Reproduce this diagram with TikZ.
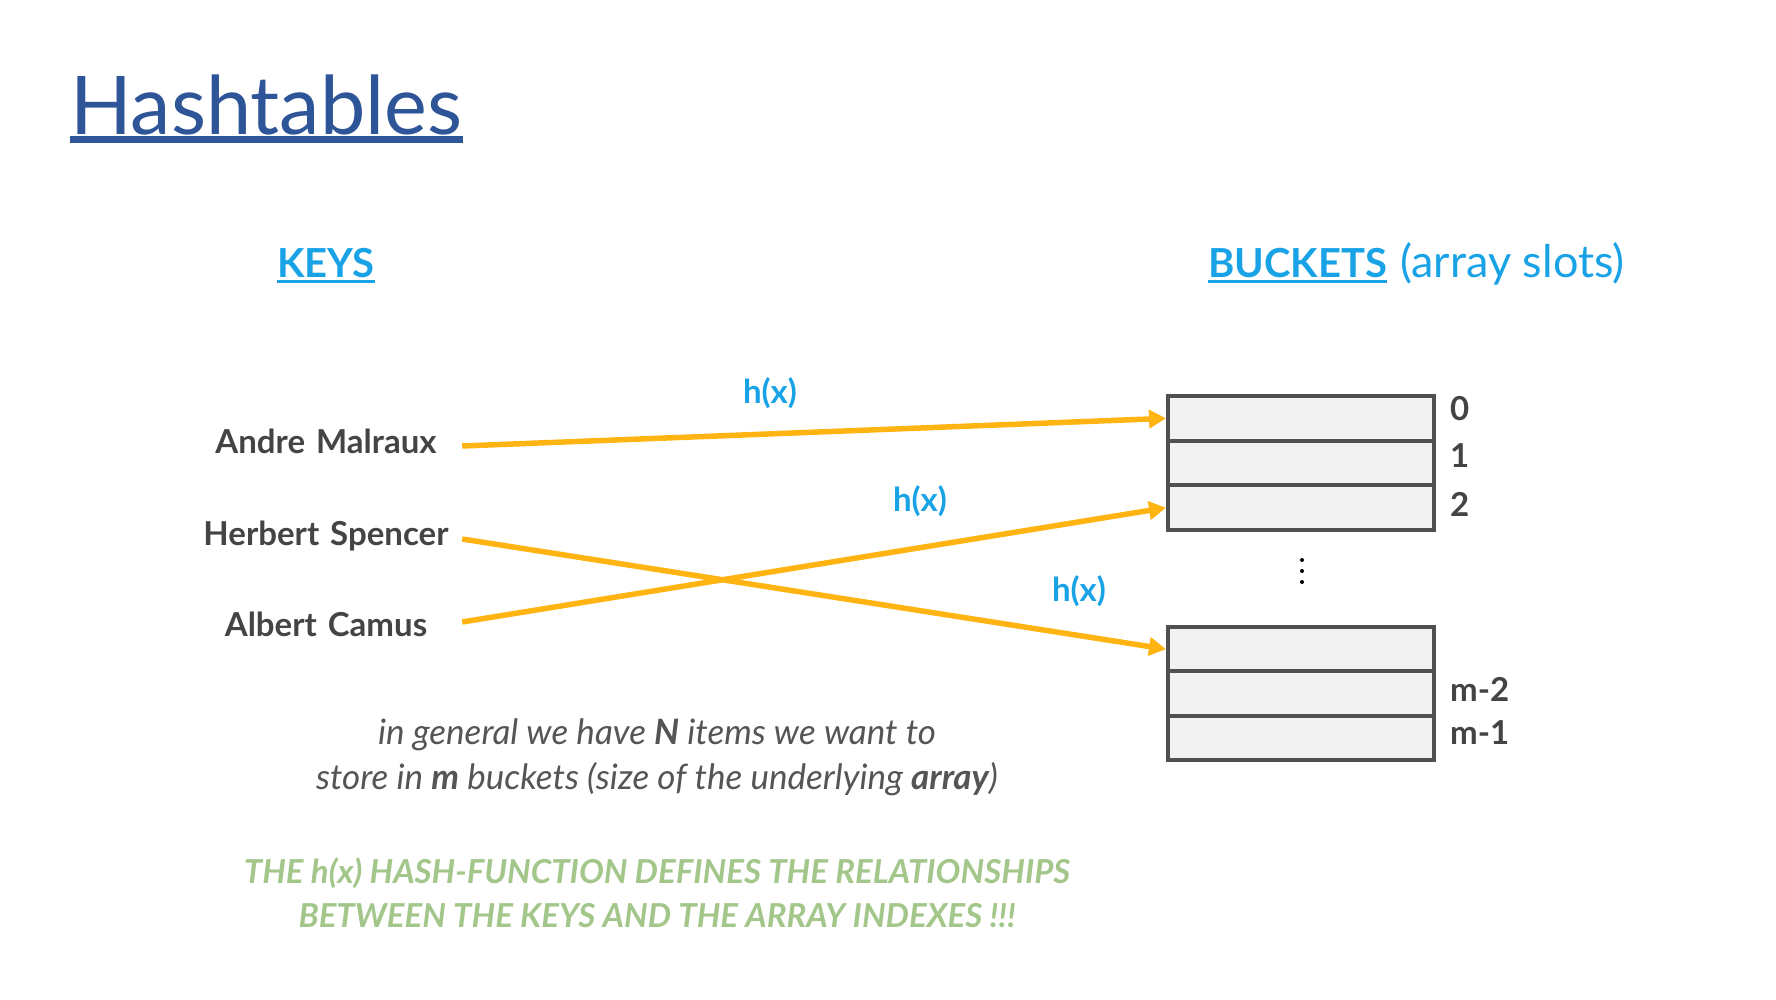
\documentclass[tikz,border=0pt]{standalone}
\usepackage{fontspec}
\setmainfont{Lato}
\usetikzlibrary{arrows.meta}

\definecolor{titleblue}{HTML}{2E5597}
\definecolor{headblue}{HTML}{19A3E6}
\definecolor{keygray}{HTML}{444444}
\definecolor{hashorange}{HTML}{FFB411}
\definecolor{cellgray}{HTML}{505050}
\definecolor{cellfill}{HTML}{F2F2F2}
\definecolor{notegray}{HTML}{555555}
\definecolor{notegreen}{HTML}{A3C68A}

\begin{document}
\begin{tikzpicture}[x=1pt, y=-1pt]
    \tikzset{
        cell/.style={draw=cellgray, line width=4pt, fill=cellfill, minimum width=266pt, inner sep=0pt},
        key/.style={text=keygray, font=\fontsize{33}{38}\selectfont\bfseries, text width=272pt, align=center,
            text height=22pt, text depth=6pt, inner sep=0pt, anchor=base},
        idx/.style={text=keygray, font=\fontsize{33}{38}\selectfont\bfseries, inner sep=0pt, anchor=base west},
        hx/.style={text=headblue, font=\fontsize{33}{38}\selectfont\bfseries},
        head/.style={text=headblue, font=\fontsize{40}{48}\selectfont\bfseries, inner sep=0pt, anchor=base},
        note/.style={text=notegray, font=\fontsize{35}{40}\selectfont\itshape, inner sep=0pt, anchor=base},
        rule/.style={text=notegreen, font=\fontsize{33}{38}\selectfont\bfseries\itshape, inner sep=0pt, anchor=base},
        hash/.style={draw=hashorange, line width=5.5pt, -{Triangle[length=17pt,width=18pt]}},
    }
    \useasboundingbox (0,0) rectangle (1776,1000);

    % title
    \node[text=titleblue, font=\fontsize{81}{92}\selectfont, inner sep=0pt, anchor=base west] (title) at (70,135) {Hashtables};
    \draw[titleblue, line width=7pt] ([yshift=-4.5pt]title.base west) -- ([yshift=-4.5pt]title.base east);

    % headings
    \node[head] (keys) at (326,277) {KEYS};
    \draw[headblue, line width=3pt] ([yshift=-4pt]keys.base west) -- ([yshift=-4pt]keys.base east);
    \node[head, anchor=base west] (bkt) at (1208,277) {BUCKETS};
    \draw[headblue, line width=3pt] ([yshift=-4pt]bkt.base west) -- ([yshift=-4pt]bkt.base east);
    \node[head, anchor=base west, font=\fontsize{45}{50}\selectfont] (slots) at ([xshift=13pt]bkt.base east) {(array slots)};

    % keys
    \node[key] (andre) at (326,453) {Andre Malraux};
    \node[key] (herbert) at (326,545) {Herbert Spencer};
    \node[key] (albert) at (326,636) {Albert Camus};

    % buckets
    \foreach \n/\y in {c0/418.35, c1/463.05, c2/507.75}
        \node[cell, minimum height=44.7pt] (\n) at (1301,\y) {};
    \foreach \n/\y in {cm3/649.15, cm2/693.45, cm1/737.75}
        \node[cell, minimum height=44.3pt] (\n) at (1301,\y) {};
    \foreach \t/\y in {0/420, 1/467, 2/516, m-2/701, m-1/744}
        \node[idx] (i\t) at (1450,\y) {\t};
    \foreach \y in {560,571,582}
        \fill[black] (1302,\y) circle (2pt);

    % hash arrows
    \draw[hash] ([yshift=-1pt]andre.east) -- (c0.west);
    \draw[hash] ([yshift=-2pt]herbert.east) -- (cm3.west);
    \draw[hash] ([yshift=6pt]albert.east) -- (c2.west);
    \node[hx] (h1) at (770,393) {h(x)};
    \node[hx] (h2) at (920,501) {h(x)};
    \node[hx] (h3) at (1079,591) {h(x)};

    % notes
    \node[note] (note1) at (657,744) {in general we have \textbf{N} items we want to};
    \node[note] (note2) at (657,789) {store in \textbf{m} buckets (size of the underlying \textbf{array})};
    \node[rule] (rule1) at (657,883) {THE h(x) HASH-FUNCTION DEFINES THE RELATIONSHIPS};
    \node[rule] (rule2) at (657,927) {BETWEEN THE KEYS AND THE ARRAY INDEXES !!!};
\end{tikzpicture}
\end{document}
